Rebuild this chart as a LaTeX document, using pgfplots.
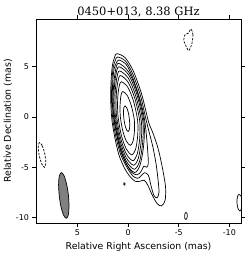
\documentclass[border=0pt]{standalone}
\usepackage{fontspec}
\setmainfont{DejaVu Sans}
\newfontfamily\titlefont{DejaVu Serif}
\usepackage{pgfplots}
\pgfplotsset{compat=1.18}
\begin{document}
\begin{tikzpicture}
\begin{axis}[
 width=205bp, height=204bp, scale only axis,
 x dir=reverse,
 xmin=-11.15, xmax=9.1, ymin=-10.55, ymax=9.75,
 xtick={-10,-5,0,5}, ytick={-10,-5,0,5},
 tick align=outside, major tick length=3.5bp,
 tick style={black, line width=0.6bp},
 axis line style={line width=0.8bp},
 ticklabel style={font=\fontsize{8}{9}\selectfont},
 /pgf/number format/assume math mode=true,
 xlabel={Relative Right Ascension (mas)},
 ylabel={Relative Declination (mas)},
 ylabel shift=-3bp,
 xlabel shift=-1bp,
 label style={font=\fontsize{9.4}{11}\selectfont},
 title={0450+013, 8.38 GHz},
 title style={font=\titlefont\fontsize{11.5}{13}\selectfont, yshift=-8bp},
 ctr/.style={black, line width=0.7bp, smooth cycle, mark=none},
 dctr/.style={black, line width=0.7bp, smooth cycle, mark=none, dash pattern=on 2.2bp off 1.4bp},
]
% contour 1 (outermost, with south-west lobe)
\addplot[ctr] coordinates {(1.1,6.3) (0.3,5.9) (-0.5,4.6) (-1.3,2.4) (-1.75,0.6) (-2.05,-0.6) (-2.45,-1.6) (-2.8,-2.6) (-3.1,-3.7) (-3.45,-5.4) (-3.7,-7.0) (-3.65,-8.3) (-3.3,-8.85) (-2.85,-8.6) (-2.35,-7.7) (-1.95,-6.8) (-1.6,-6.3) (-1.15,-6.4) (-0.7,-6.4) (-0.2,-5.95) (0.35,-5.1) (0.9,-3.8) (1.3,-2.1) (1.6,-0.3) (1.72,1.7) (1.68,3.7) (1.54,5.2) (1.32,6.0)};
% contour 2
\addplot[ctr] coordinates {(1.02,5.97) (0.25,5.55) (-0.45,4.3) (-1.2,2.2) (-1.6,0.5) (-1.85,-0.6) (-2.15,-1.8) (-2.45,-3.0) (-2.75,-4.6) (-2.95,-6.2) (-3.05,-7.5) (-2.85,-8.05) (-2.55,-7.8) (-2.3,-7.0) (-2.0,-5.8) (-1.6,-5.55) (-1.2,-5.95) (-0.9,-6.1) (-0.45,-5.85) (0.15,-4.95) (0.75,-3.7) (1.2,-2.0) (1.5,-0.3) (1.64,1.6) (1.6,3.6) (1.46,5.0) (1.24,5.7)};
% contour 3
\addplot[ctr] coordinates {(0.9,5.67) (0.18,5.2) (-0.42,4.0) (-1.1,2.0) (-1.5,0.4) (-1.7,-0.8) (-1.85,-2.3) (-1.95,-3.6) (-2.0,-4.6) (-1.85,-5.0) (-1.55,-4.9) (-1.35,-5.3) (-1.1,-5.65) (-0.8,-5.75) (-0.35,-5.5) (0.15,-4.7) (0.7,-3.5) (1.1,-1.9) (1.4,-0.3) (1.56,1.5) (1.52,3.5) (1.38,4.8) (1.15,5.4)};
% contour 4
\addplot[ctr] coordinates {(0.95,5.34) (-0.05,4.49) (-0.94,2.37) (-1.57,-0.52) (-1.54,-2.76) (-1.20,-4.72) (-0.65,-5.53) (0.19,-4.64) (0.95,-2.51) (1.46,0.46) (1.45,2.86) (1.26,4.57)};
% contour 5
\addplot[ctr] coordinates {(0.90,5.00) (-0.04,4.21) (-0.87,2.22) (-1.46,-0.49) (-1.43,-2.60) (-1.12,-4.45) (-0.60,-5.20) (0.19,-4.37) (0.90,-2.38) (1.38,0.41) (1.38,2.67) (1.19,4.29)};
% contour 6
\addplot[ctr] coordinates {(0.84,4.58) (-0.02,3.86) (-0.77,2.03) (-1.31,-0.46) (-1.29,-2.41) (-1.01,-4.10) (-0.54,-4.80) (0.19,-4.04) (0.84,-2.21) (1.28,0.35) (1.28,2.43) (1.11,3.92)};
% contour 7
\addplot[ctr] coordinates {(0.76,4.12) (0.00,3.46) (-0.67,1.82) (-1.15,-0.42) (-1.14,-2.19) (-0.89,-3.72) (-0.46,-4.35) (0.18,-3.67) (0.77,-2.02) (1.16,0.28) (1.17,2.17) (1.01,3.52)};
% contour 8
\addplot[ctr] coordinates {(0.67,3.51) (0.03,2.96) (-0.54,1.55) (-0.94,-0.37) (-0.94,-1.92) (-0.73,-3.23) (-0.37,-3.77) (0.18,-3.19) (0.68,-1.78) (1.01,0.19) (1.03,1.83) (0.89,3.01)};
% contour 9
\addplot[ctr] coordinates {(0.52,2.53) (0.08,2.13) (-0.32,1.11) (-0.61,-0.29) (-0.62,-1.46) (-0.48,-2.43) (-0.22,-2.82) (0.17,-2.41) (0.53,-1.38) (0.77,0.04) (0.79,1.27) (0.70,2.16)};
% contour 10 (innermost)
\addplot[ctr] coordinates {(0.30,1.11) (0.145,0.94) (-0.01,0.47) (-0.12,-0.17) (-0.16,-0.81) (-0.115,-1.28) (0.0,-1.45) (0.155,-1.28) (0.31,-0.81) (0.42,-0.17) (0.46,0.47) (0.415,0.94)};
% tiny contour south of the core
\addplot[ctr] coordinates {(0.40,-6.55) (0.30,-6.62) (0.33,-6.78) (0.44,-6.70)};
% small contour near bottom
\addplot[ctr] coordinates {(-5.72,-9.5) (-5.82,-9.6) (-5.85,-9.85) (-5.8,-10.1) (-5.7,-10.2) (-5.6,-10.1) (-5.58,-9.85) (-5.62,-9.6)};
% contour at right edge
\addplot[ctr] coordinates {(-10.95,-7.7) (-11.2,-7.95) (-11.3,-8.5) (-11.2,-9.1) (-11.05,-9.35) (-10.85,-9.1) (-10.75,-8.5) (-10.8,-7.95)};
% negative contours (dashed)
\addplot[dctr] coordinates {(8.75,-2.55) (8.48,-2.87) (8.22,-3.72) (8.13,-4.61) (8.25,-5.01) (8.52,-4.69) (8.78,-3.84) (8.88,-2.95)};
\addplot[dctr] coordinates {(-6.21,8.75) (-6.4,8.2) (-6.3,7.3) (-6.0,6.6) (-5.8,6.9) (-5.5,7.6) (-5.6,8.15) (-5.95,8.35)};
% restoring beam
\addplot[black, line width=0.7bp, fill=gray, smooth cycle, mark=none] coordinates {(6.60,-5.54) (6.34,-5.82) (6.09,-6.63) (5.90,-7.76) (5.84,-8.90) (5.91,-9.75) (6.10,-10.08) (6.36,-9.80) (6.62,-8.99) (6.80,-7.86) (6.87,-6.72) (6.79,-5.87)};
\coordinate (BL) at (axis description cs:0,0);
\coordinate (TR) at (axis description cs:1,1);
\end{axis}
\pgfresetboundingbox
\path[use as bounding box] ([shift={(-36bp,-32bp)}]BL) rectangle ([shift={(9bp,19bp)}]TR);
\end{tikzpicture}
\end{document}
